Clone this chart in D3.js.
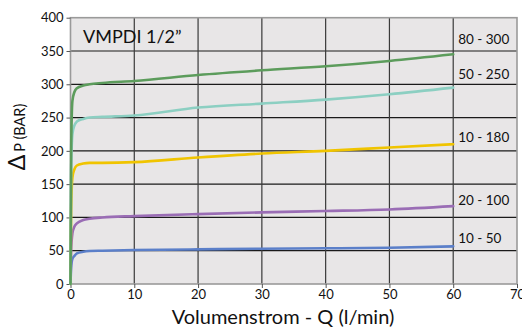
<!DOCTYPE html>
<html>
<head>
<meta charset="utf-8">
<script src="https://cdn.jsdelivr.net/npm/d3@7"></script>
<style>
  html, body { margin: 0; padding: 0; background: #fff; }
  svg { display: block; }
  text { font-family: Lato, "Noto Sans", sans-serif; fill: #111; }
</style>
</head>
<body>
<svg id="chart" width="522" height="329"></svg>
<script>
// ---- data ----
const xTicks = [0, 10, 20, 30, 40, 50, 60, 70];
const yTicks = [0, 50, 100, 150, 200, 250, 300, 350, 400];
const flow = [0, 0.1, 0.3, 0.6, 1, 2, 3, 5, 10, 20, 30, 40, 50, 60];
const s10_50   = [0, 25, 38, 42, 46, 48.5, 49.5, 50, 51, 52, 53, 53.6, 54.5, 56.6];
const s20_100  = [0, 50, 76, 86, 91, 96, 98, 100, 102, 105, 107.6, 109.6, 112, 117];
const s10_180  = [0, 110, 160, 172, 178, 181, 182, 182, 183, 190, 196, 200, 205, 210];
const s50_250  = [0, 170, 225, 238, 244, 248, 250, 251, 253, 265, 271, 277, 285, 295];
const s80_300  = [0, 200, 275, 288, 294, 298, 300, 302, 305, 314, 321, 327, 335, 345];
const seriesNames = ["10 - 50", "20 - 100", "10 - 180", "50 - 250", "80 - 300"];
const seriesValues = [s10_50, s20_100, s10_180, s50_250, s80_300];
const seriesColors = ["#5b7fc9", "#9a6db5", "#f0c400", "#8ccfc2", "#5c9c5c"];
const labelY = [61, 118, 213, 308, 360];
const title = "VMPDI 1/2\u201D";
const xTitle = "Volumenstrom - Q (l/min)";

// ---- layout ----
const svg = d3.select("#chart");
const L = 70.5, R = 517, T = 17.7, B = 284;
const x = d3.scaleLinear().domain([0, 70]).range([L, R]);
const y = d3.scaleLinear().domain([0, 400]).range([B, T]);

// background
svg.append("rect").attr("x", L).attr("y", T).attr("width", R - L).attr("height", B - T)
  .attr("fill", "#e8e6e7");

// grid
svg.append("g").selectAll("line").data(yTicks.filter(d => d > 0 && d < 400)).join("line")
  .attr("x1", L).attr("x2", R).attr("y1", d => y(d)).attr("y2", d => y(d))
  .attr("stroke", "#1a1a1a").attr("stroke-width", 1.2);
svg.append("g").selectAll("line").data(xTicks.filter(d => d > 0 && d < 70)).join("line")
  .attr("y1", T).attr("y2", B).attr("x1", d => x(d)).attr("x2", d => x(d))
  .attr("stroke", "#3a3a3a").attr("stroke-width", 1.2);

// border
svg.append("rect").attr("x", L).attr("y", T).attr("width", R - L).attr("height", B - T)
  .attr("fill", "none").attr("stroke", "#9a9a9a").attr("stroke-width", 1.6);

// axes
const yAxis = d3.axisLeft(y).tickValues(yTicks).tickSize(4).tickPadding(3);
const gy = svg.append("g").attr("transform", `translate(${L},0)`).call(yAxis);
gy.select(".domain").remove();
gy.selectAll("line").attr("stroke", "#555");
gy.selectAll("text").style("font-size", "13px").attr("fill", "#111");

const xAxis = d3.axisBottom(x).tickValues(xTicks).tickSize(4).tickPadding(2);
const gx = svg.append("g").attr("transform", `translate(0,${B})`).call(xAxis);
gx.select(".domain").remove();
gx.selectAll("line").attr("stroke", "#555");
gx.selectAll("text").style("font-size", "13px").attr("fill", "#111");

// lines
const line = d3.line().x((d, i) => x(flow[i])).y(d => y(d)).curve(d3.curveMonotoneX);
svg.append("g").selectAll("path").data(seriesValues).join("path")
  .attr("d", d => line(d)).attr("fill", "none")
  .attr("stroke", (d, i) => seriesColors[i]).attr("stroke-width", 2.6)
  .attr("stroke-linejoin", "round").attr("stroke-linecap", "round");

// series labels
svg.append("g").selectAll("text").data(seriesNames).join("text")
  .attr("x", x(60) + 5).attr("y", (d, i) => y(labelY[i]))
  .style("font-size", "13.5px").text(d => d);

// title
svg.append("text").attr("x", 83).attr("y", 43).style("font-size", "18px").text(title);

// x title
svg.append("text").attr("x", 283).attr("y", 324).attr("text-anchor", "middle")
  .style("font-size", "20px").text(xTitle);

// y title
const yt = svg.append("text").attr("transform", "translate(25,137) rotate(-90)")
  .attr("text-anchor", "middle");
yt.append("tspan").style("font-size", "23px").text("\u0394");
yt.append("tspan").attr("dx", 3).style("font-size", "14.5px").text("P (BAR)");
</script>
</body>
</html>
